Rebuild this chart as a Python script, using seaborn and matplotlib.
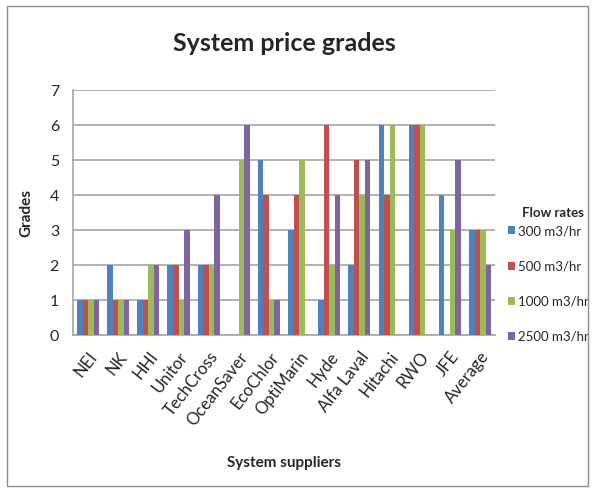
import numpy as np
import pandas as pd
import matplotlib.pyplot as plt
import seaborn as sns
from matplotlib.patches import Rectangle

suppliers = ['NEI', 'NK', 'HHI', 'Unitor', 'TechCross', 'OceanSaver', 'EcoChlor',
             'OptiMarin', 'Hyde', 'Alfa Laval', 'Hitachi', 'RWO', 'JFE', 'Average']
flow_300 = [1, 2, 1, 2, 2, 0, 5, 3, 1, 2, 6, 6, 4, 3]
flow_500 = [1, 1, 1, 2, 2, 0, 4, 4, 6, 5, 4, 6, 0, 3]
flow_1000 = [1, 1, 2, 1, 2, 5, 1, 5, 2, 4, 6, 6, 3, 3]
flow_2500 = [1, 1, 2, 3, 4, 6, 1, 0, 4, 5, 0, 0, 5, 2]
series_names = ['300 m3/hr', '500 m3/hr', '1000 m3/hr', '2500 m3/hr']
colors = ['#4F81BD', '#C0504D', '#9BBB59', '#8064A2']

rows = []
for name, vals in zip(series_names, [flow_300, flow_500, flow_1000, flow_2500]):
    for s, v in zip(suppliers, vals):
        rows.append({'Supplier': s, 'Flow rates': name, 'Grade': v})
df = pd.DataFrame(rows)

sns.set_style('white')
plt.rcParams['font.family'] = ['Lato', 'DejaVu Sans']

fig = plt.figure(figsize=(5.98, 4.92), dpi=100)
ax = fig.add_axes([0.122, 0.319, 0.706, 0.498])

sns.barplot(data=df, x='Supplier', y='Grade', hue='Flow rates',
            hue_order=series_names, palette=colors, width=0.73,
            saturation=1, linewidth=0, ax=ax, zorder=3)

ax.set_ylim(0, 7)
ax.set_yticks(range(0, 8))
ax.set_xlim(-0.5, len(suppliers) - 0.5)
ax.yaxis.grid(True, color='#a6a6a6', linewidth=1.2, zorder=0)
ax.set_axisbelow(True)
for side in ['top', 'right']:
    ax.spines[side].set_visible(False)
for side in ['left', 'bottom']:
    ax.spines[side].set_color('#a6a6a6')
    ax.spines[side].set_linewidth(1.2)

ax.tick_params(axis='y', labelsize=11.5, length=0, pad=10)
ax.tick_params(axis='x', labelsize=12, length=0, pad=10)
plt.setp(ax.get_xticklabels(), rotation=52, ha='right', rotation_mode='anchor')

ax.set_xlabel('System suppliers', fontsize=11, fontweight='bold', labelpad=20)
ax.set_ylabel('Grades', fontsize=11, fontweight='bold', labelpad=12)
ax.set_title('System price grades', fontsize=18, fontweight='bold', pad=28)

# legend entries, title placed separately so it sits close to the first entry
leg = ax.legend(loc='lower left', bbox_to_anchor=(1.03, -0.03),
                frameon=False, fontsize=9.5, handlelength=0.55, handleheight=0.55,
                handletextpad=0.2, labelspacing=1.75, borderaxespad=0,
                borderpad=0)
fig.text(0.924, 0.567, 'Flow rates', fontsize=9.5, fontweight='bold',
         ha='center', va='center')

fig.patches.append(Rectangle((0.012, 0.012), 0.972, 0.975, transform=fig.transFigure,
                             fill=False, edgecolor='#8c8c8c', linewidth=1.0))

fig.savefig('out.png', dpi=100)
plt.close()
